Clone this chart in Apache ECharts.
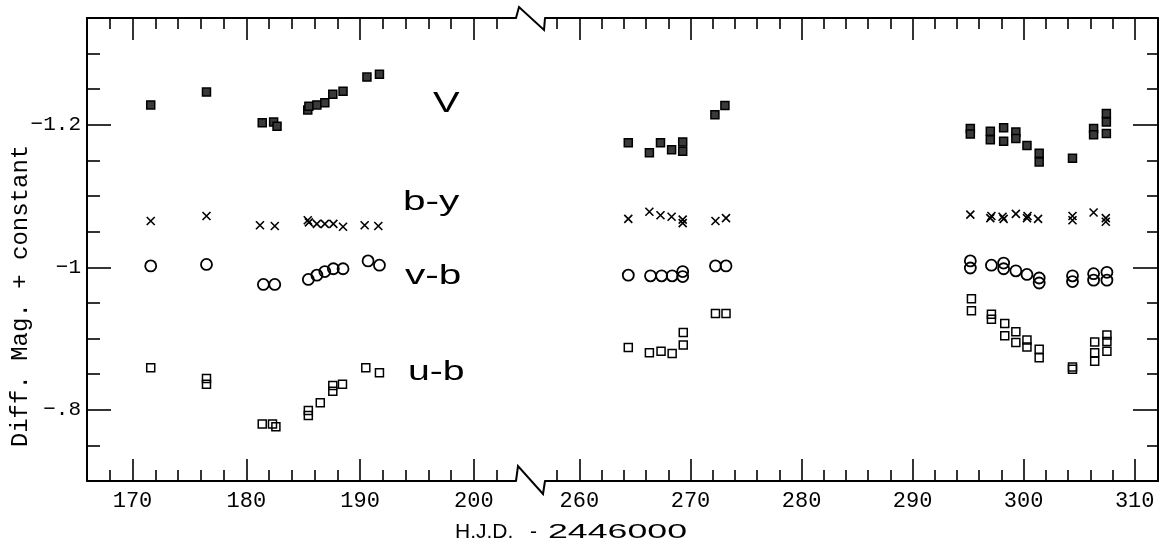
<!DOCTYPE html>
<html>
<head>
<meta charset="utf-8">
<script src="https://cdn.jsdelivr.net/npm/echarts@6/dist/echarts.min.js"></script>
<style>
  html, body { margin: 0; padding: 0; background: #fff; }
  #chart { width: 1170px; height: 550px; }
</style>
</head>
<body>
<div id="chart"></div>
<script>
// Observations: [H.J.D. - 2446000, differential magnitude]
const V_FIRST = [
  [171.6, -1.228], [176.5, -1.246], [181.4, -1.203], [182.4, -1.204], [182.7, -1.198],
  [185.4, -1.221], [185.5, -1.226], [186.2, -1.228], [186.9, -1.231], [187.6, -1.243],
  [188.5, -1.247], [190.6, -1.267], [191.7, -1.271]
];
const V_SECOND = [
  [264.4, -1.175], [266.3, -1.161], [267.3, -1.175], [268.3, -1.165], [269.3, -1.176],
  [269.3, -1.163], [272.2, -1.214], [273.1, -1.227],
  [295.2, -1.195], [295.2, -1.187], [297.0, -1.191], [297.0, -1.179], [298.2, -1.196],
  [298.2, -1.177], [299.3, -1.190], [299.3, -1.181], [300.3, -1.171], [301.4, -1.160],
  [301.4, -1.148], [304.4, -1.153], [306.3, -1.195], [306.3, -1.186], [307.45, -1.216],
  [307.45, -1.204], [307.45, -1.188]
];
const BY_FIRST = [
  [171.6, -1.065], [176.5, -1.072], [181.2, -1.059], [182.5, -1.058], [185.4, -1.066],
  [185.5, -1.063], [186.2, -1.061], [186.9, -1.061], [187.65, -1.061], [188.5, -1.057],
  [190.4, -1.059], [191.6, -1.058]
];
const BY_SECOND = [
  [264.4, -1.068], [266.3, -1.078], [267.3, -1.073], [268.3, -1.071], [269.3, -1.067],
  [269.3, -1.062], [272.25, -1.065], [273.2, -1.069],
  [295.2, -1.074], [297.0, -1.069], [297.1, -1.072], [298.1, -1.071], [298.2, -1.068],
  [299.3, -1.075], [300.3, -1.069], [300.35, -1.072], [301.3, -1.068], [304.4, -1.072],
  [304.4, -1.066], [306.3, -1.077], [307.4, -1.069], [307.4, -1.064]
];
const VB_FIRST = [
  [171.6, -1.002], [176.5, -1.004], [181.5, -0.976], [182.5, -0.976], [185.45, -0.983],
  [186.2, -0.989], [186.9, -0.994], [187.65, -0.998], [188.5, -0.998], [190.7, -1.009],
  [191.7, -1.003]
];
const VB_SECOND = [
  [264.4, -0.989], [266.4, -0.988], [267.4, -0.988], [268.35, -0.988], [269.3, -0.994],
  [269.3, -0.987], [272.25, -1.002], [273.2, -1.002],
  [295.2, -1.009], [295.2, -0.999], [297.1, -1.003], [298.2, -1.006], [298.2, -0.998],
  [299.3, -0.995], [300.3, -0.990], [301.4, -0.985], [301.4, -0.978], [304.4, -0.988],
  [304.4, -0.980], [306.3, -0.991], [306.3, -0.982], [307.5, -0.993], [307.5, -0.982]
];
const UB_FIRST = [
  [171.6, -0.859], [176.5, -0.844], [176.5, -0.836], [181.4, -0.780], [182.3, -0.780],
  [182.6, -0.776], [185.45, -0.792], [185.45, -0.799], [186.5, -0.810], [187.6, -0.826],
  [187.6, -0.834], [188.45, -0.836], [190.5, -0.859], [191.7, -0.852]
];
const UB_SECOND = [
  [264.4, -0.8875], [266.3, -0.880], [267.35, -0.882], [268.35, -0.879], [269.35, -0.9085],
  [269.35, -0.891], [272.25, -0.935], [273.2, -0.935],
  [295.3, -0.956], [295.3, -0.939], [297.1, -0.934], [297.1, -0.927], [298.3, -0.921],
  [298.3, -0.904], [299.3, -0.9095], [299.3, -0.8945], [300.3, -0.898], [300.3, -0.888],
  [301.4, -0.885], [301.4, -0.873], [304.4, -0.860], [304.4, -0.857], [306.4, -0.895],
  [306.4, -0.880], [306.4, -0.868], [307.5, -0.905], [307.5, -0.896], [307.5, -0.882]
];

// Axis extents and ticks (the time axis is broken between the two observing runs)
const X_RANGE_FIRST = [166, 203.7];
const X_RANGE_SECOND = [256.9, 312.1];
const Y_RANGE = [-1.35, -0.7];
const X_MAJOR_FIRST = [170, 180, 190, 200];
const X_MINOR_FIRST = [168, 172, 174, 176, 178, 182, 184, 186, 188, 192, 194, 196, 198, 202];
const X_MAJOR_SECOND = [260, 270, 280, 290, 300, 310];
const X_MINOR_SECOND = [258, 262, 264, 266, 268, 272, 274, 276, 278, 282, 284, 286, 288,
  292, 294, 296, 298, 302, 304, 306, 308];
const Y_MAJOR = [-1.2, -1, -0.8];
const Y_MAJOR_LABELS = ['\u22121.2', '\u22121', '\u2212.8'];
const Y_MINOR = [-1.3, -1.25, -1.15, -1.1, -1.05, -0.95, -0.9, -0.85, -0.75];

// Plot panels (pixels)
const PANEL_FIRST = { left: 87, top: 18, width: 429, height: 463 };
const PANEL_SECOND = { left: 545, top: 18, width: 613, height: 463 };

const INK = '#000';
const MONO = '"Liberation Mono", "DejaVu Sans Mono", monospace';
const SANS = '"Liberation Sans", Arial, sans-serif';

function xAxisDef(gridIndex, position, range, ticks, len, withLine, withLabels) {
  return {
    type: 'value', gridIndex, position, min: range[0], max: range[1],
    axisLine: { show: withLine, onZero: false, lineStyle: { color: INK, width: 2 } },
    axisTick: { show: true, inside: true, length: len, customValues: ticks,
      lineStyle: { color: INK, width: 1.6 } },
    axisLabel: withLabels ? {
      show: true, customValues: ticks, margin: 9, color: INK,
      fontFamily: MONO, fontSize: 22, formatter: v => String(v)
    } : { show: false },
    splitLine: { show: false }, minorTick: { show: false }
  };
}

function yAxisDef(gridIndex, position, ticks, len, withLine, labels) {
  return {
    type: 'value', gridIndex, position, min: Y_RANGE[0], max: Y_RANGE[1], inverse: true,
    axisLine: { show: withLine, onZero: false, lineStyle: { color: INK, width: 2 } },
    axisTick: { show: true, inside: true, length: len, customValues: ticks,
      lineStyle: { color: INK, width: 1.6 } },
    axisLabel: labels ? {
      show: true, customValues: ticks, margin: 6, color: INK,
      fontFamily: MONO, fontSize: 21,
      formatter: v => labels[ticks.findIndex(t => Math.abs(t - v) < 1e-9)] || ''
    } : { show: false },
    splitLine: { show: false }, minorTick: { show: false }
  };
}

const CROSS = 'path://M0,0L10,10M10,0L0,10';
const STYLES = {
  V: { symbol: 'rect', symbolSize: 8,
    itemStyle: { color: '#3a3a3a', borderColor: INK, borderWidth: 1.5, opacity: 1 } },
  BY: { symbol: CROSS, symbolSize: 8,
    itemStyle: { color: INK, borderColor: INK, borderWidth: 1.6, opacity: 1 } },
  VB: { symbol: 'circle', symbolSize: 11,
    itemStyle: { color: 'rgba(0,0,0,0)', borderColor: INK, borderWidth: 1.8, opacity: 1 } },
  UB: { symbol: 'rect', symbolSize: 8,
    itemStyle: { color: 'rgba(0,0,0,0)', borderColor: INK, borderWidth: 1.5, opacity: 1 } }
};

function scatter(name, data, style, second) {
  return Object.assign({
    type: 'scatter', name, data,
    xAxisIndex: second ? 4 : 0, yAxisIndex: second ? 2 : 0,
    silent: true, emphasis: { disabled: true }
  }, style);
}

function label(text, x, y, size, stretch, font) {
  return {
    type: 'text', x, y, scaleX: stretch, scaleY: 1, originX: 0, originY: 0, silent: true,
    style: { text, x: 0, y: 0, fill: INK, font: size + 'px ' + (font || SANS),
      align: 'left', verticalAlign: 'middle', textAlign: 'left', textVerticalAlign: 'middle' }
  };
}

// Zig-zag marks where the time axis is interrupted
const gapL = PANEL_FIRST.left + PANEL_FIRST.width;
const gapR = PANEL_SECOND.left;
const yTop = PANEL_FIRST.top;
const yBot = PANEL_FIRST.top + PANEL_FIRST.height;

const option = {
  animation: false,
  backgroundColor: '#fff',
  grid: [
    Object.assign({ outerBoundsMode: 'none' }, PANEL_FIRST),
    Object.assign({ outerBoundsMode: 'none' }, PANEL_FIRST),
    Object.assign({ outerBoundsMode: 'none' }, PANEL_SECOND),
    Object.assign({ outerBoundsMode: 'none' }, PANEL_SECOND)
  ],
  xAxis: [
    xAxisDef(0, 'bottom', X_RANGE_FIRST, X_MAJOR_FIRST, 22, true, true),
    xAxisDef(0, 'top', X_RANGE_FIRST, X_MAJOR_FIRST, 22, true, false),
    xAxisDef(1, 'bottom', X_RANGE_FIRST, X_MINOR_FIRST, 11, false, false),
    xAxisDef(1, 'top', X_RANGE_FIRST, X_MINOR_FIRST, 11, false, false),
    xAxisDef(2, 'bottom', X_RANGE_SECOND, X_MAJOR_SECOND, 22, true, true),
    xAxisDef(2, 'top', X_RANGE_SECOND, X_MAJOR_SECOND, 22, true, false),
    xAxisDef(3, 'bottom', X_RANGE_SECOND, X_MINOR_SECOND, 11, false, false),
    xAxisDef(3, 'top', X_RANGE_SECOND, X_MINOR_SECOND, 11, false, false)
  ],
  yAxis: [
    yAxisDef(0, 'left', Y_MAJOR, 24, true, Y_MAJOR_LABELS),
    yAxisDef(1, 'left', Y_MINOR, 13, false, null),
    yAxisDef(2, 'right', Y_MAJOR, 25, true, null),
    yAxisDef(3, 'right', Y_MINOR, 11, false, null)
  ],
  series: [
    scatter('V', V_FIRST, STYLES.V, false),
    scatter('V', V_SECOND, STYLES.V, true),
    scatter('b-y', BY_FIRST, STYLES.BY, false),
    scatter('b-y', BY_SECOND, STYLES.BY, true),
    scatter('v-b', VB_FIRST, STYLES.VB, false),
    scatter('v-b', VB_SECOND, STYLES.VB, true),
    scatter('u-b', UB_FIRST, STYLES.UB, false),
    scatter('u-b', UB_SECOND, STYLES.UB, true)
  ],
  graphic: [
    { type: 'polyline', silent: true,
      shape: { points: [[gapL, yBot], [gapL + 2, yBot - 15], [gapR - 2, yBot + 13], [gapR, yBot]] },
      style: { stroke: INK, lineWidth: 2, fill: null } },
    { type: 'polyline', silent: true,
      shape: { points: [[gapL, yTop], [gapL + 3, yTop - 11], [gapR - 1, yTop + 12], [gapR, yTop]] },
      style: { stroke: INK, lineWidth: 2, fill: null } },
    label('V', 433, 104, 30, 1.33),
    label('b-y', 403, 202, 28, 1.45),
    label('v-b', 405, 276, 28, 1.45),
    label('u-b', 408, 372, 28, 1.4),
    label('H.J.D.', 455, 532, 21, 1),
    label('-', 530, 532, 21, 1),
    label('2446000', 548, 532, 21, 1.7),
    { type: 'text', x: 21, y: 296, rotation: Math.PI / 2, silent: true,
      style: { text: 'Diff. Mag. + constant', fill: INK, font: '24px ' + MONO,
        align: 'center', verticalAlign: 'middle', textAlign: 'center', textVerticalAlign: 'middle' } }
  ]
};

const chart = echarts.init(document.getElementById('chart'), null, { renderer: 'canvas' });
chart.setOption(option);
</script>
</body>
</html>
